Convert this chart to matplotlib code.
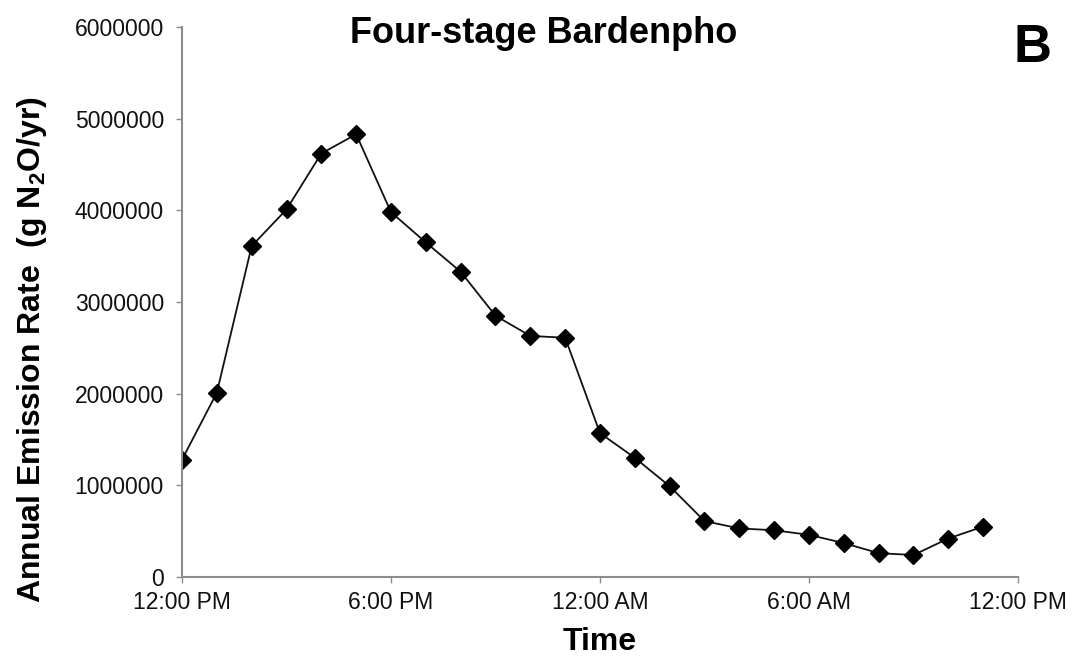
import numpy as np
import matplotlib
matplotlib.use("Agg")
import matplotlib.pyplot as plt

plt.rcParams['font.family'] = ['Liberation Sans', 'DejaVu Sans']
plt.rcParams['mathtext.fontset'] = 'custom'
plt.rcParams['mathtext.rm'] = 'Liberation Sans:bold'
plt.rcParams['mathtext.bf'] = 'Liberation Sans:bold'

# hours after 12:00 PM
hours = list(range(24))
emission = [1280000, 2010000, 3610000, 4010000, 4620000, 4830000, 3980000, 3650000,
            3330000, 2850000, 2630000, 2610000, 1570000, 1300000, 990000, 610000,
            530000, 510000, 460000, 370000, 260000, 240000, 420000, 550000]

xtick_pos = [0, 6, 12, 18, 24]
xtick_labels = ["12:00 PM", "6:00 PM", "12:00 AM", "6:00 AM", "12:00 PM"]
yticks = [0, 1000000, 2000000, 3000000, 4000000, 5000000, 6000000]

fig = plt.figure(figsize=(10.76, 6.62), dpi=100)
ax = fig.add_axes([182/1076, 85/662, 836/1076, 550/662])

ax.plot(hours, emission, color='#111111', lw=1.3, marker='D', ms=9,
        mfc='black', mec='black')

ax.set_xlim(0, 24)
ax.set_ylim(0, 6000000)
ax.set_xticks(xtick_pos)
ax.set_xticklabels(xtick_labels)
ax.set_yticks(yticks)
ax.set_yticklabels([str(v) for v in yticks])

for s in ['top', 'right']:
    ax.spines[s].set_visible(False)
for s in ['left', 'bottom']:
    ax.spines[s].set_color('#8c8c8c')
    ax.spines[s].set_linewidth(1.5)
ax.tick_params(axis='both', direction='out', length=4, width=1, color='#8c8c8c',
               labelsize=16.5, labelcolor='#111111')
ax.tick_params(axis='y', pad=9)
ax.tick_params(axis='x', pad=6)

ax.set_ylabel(r'Annual Emission Rate  (g N$_\mathbf{2}$O/yr)', fontsize=23,
              fontweight='bold', va='center')
ax.yaxis.set_label_coords(-0.179, 0.413)
ax.set_xlabel('Time', fontsize=23, fontweight='bold', va='center')
ax.xaxis.set_label_coords(0.5, -0.118)

ax.text(0.432, 0.989, 'Four-stage Bardenpho', transform=ax.transAxes,
        ha='center', va='center', fontsize=26, fontweight='bold')
ax.text(1.017, 0.962, 'B', transform=ax.transAxes, ha='center', va='center',
        fontsize=38, fontweight='bold')

fig.savefig('out.png', dpi=100)
